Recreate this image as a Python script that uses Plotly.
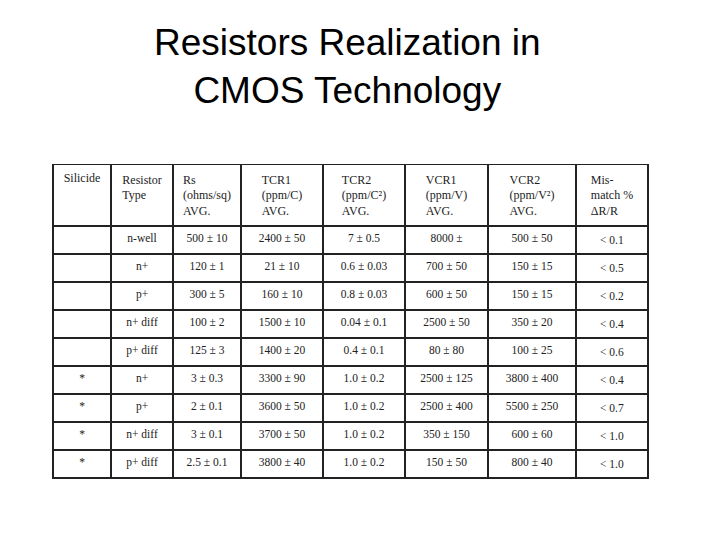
import plotly.graph_objects as go

headers = ["Silicide", "Resistor<br>Type", "Rs<br>(ohms/sq)<br>AVG.", "TCR1<br>(ppm/C)<br>AVG.",
           "TCR2<br>(ppm/C²)<br>AVG.", "VCR1<br>(ppm/V)<br>AVG.", "VCR2<br>(ppm/V²)<br>AVG.",
           "Mis-<br>match %<br>ΔR/R"]
silicide = ["", "", "", "", "", "*", "*", "*", "*"]
res_type = ["n-well", "n+", "p+", "n+ diff", "p+ diff", "n+", "p+", "n+ diff", "p+ diff"]
rs = ["500 ± 10", "120 ± 1", "300 ± 5", "100 ± 2", "125 ± 3", "3 ± 0.3", "2 ± 0.1", "3 ± 0.1", "2.5 ± 0.1"]
tcr1 = ["2400 ± 50", "21 ± 10", "160 ± 10", "1500 ± 10", "1400 ± 20", "3300 ± 90", "3600 ± 50", "3700 ± 50", "3800 ± 40"]
tcr2 = ["7 ± 0.5", "0.6 ± 0.03", "0.8 ± 0.03", "0.04 ± 0.1", "0.4 ± 0.1", "1.0 ± 0.2", "1.0 ± 0.2", "1.0 ± 0.2", "1.0 ± 0.2"]
vcr1 = ["8000 ±", "700 ± 50", "600 ± 50", "2500 ± 50", "80 ± 80", "2500 ± 125", "2500 ± 400", "350 ± 150", "150 ± 50"]
vcr2 = ["500 ± 50", "150 ± 15", "150 ± 15", "350 ± 20", "100 ± 25", "3800 ± 400", "5500 ± 250", "600 ± 60", "800 ± 40"]
mismatch = ["< 0.1", "< 0.5", "< 0.2", "< 0.4", "< 0.6", "< 0.4", "< 0.7", "< 1.0", "< 1.0"]

col_widths = [58, 62, 68, 82, 82, 83, 88, 72]
centers = ["center"] * 8

fig = go.Figure(go.Table(
    domain=dict(x=[0.0625, 0.889], y=[0.0, 0.71]),
    columnwidth=col_widths,
    header=dict(values=headers, height=56, align=centers,
                line=dict(color="#222", width=1.5), fill_color="white",
                font=dict(family="Liberation Serif", size=12, color="#222")),
    cells=dict(values=[silicide, res_type, rs, tcr1, tcr2, vcr1, vcr2, mismatch],
               height=20, align=centers,
               line=dict(color="#222", width=1.5), fill_color="white",
               font=dict(family="Liberation Serif", size=11.5, color="#222")),
))

fig.update_layout(
    width=720, height=540, paper_bgcolor="white",
    margin=dict(l=0, r=0, t=0, b=0),
    annotations=[dict(text="Resistors Realization in<br>CMOS Technology", x=0.472, y=0.978,
                      xref="paper", yref="paper", xanchor="center", yanchor="top",
                      showarrow=False, font=dict(family="Liberation Sans", size=37, color="black"))],
)

fig.write_html("out.html")
